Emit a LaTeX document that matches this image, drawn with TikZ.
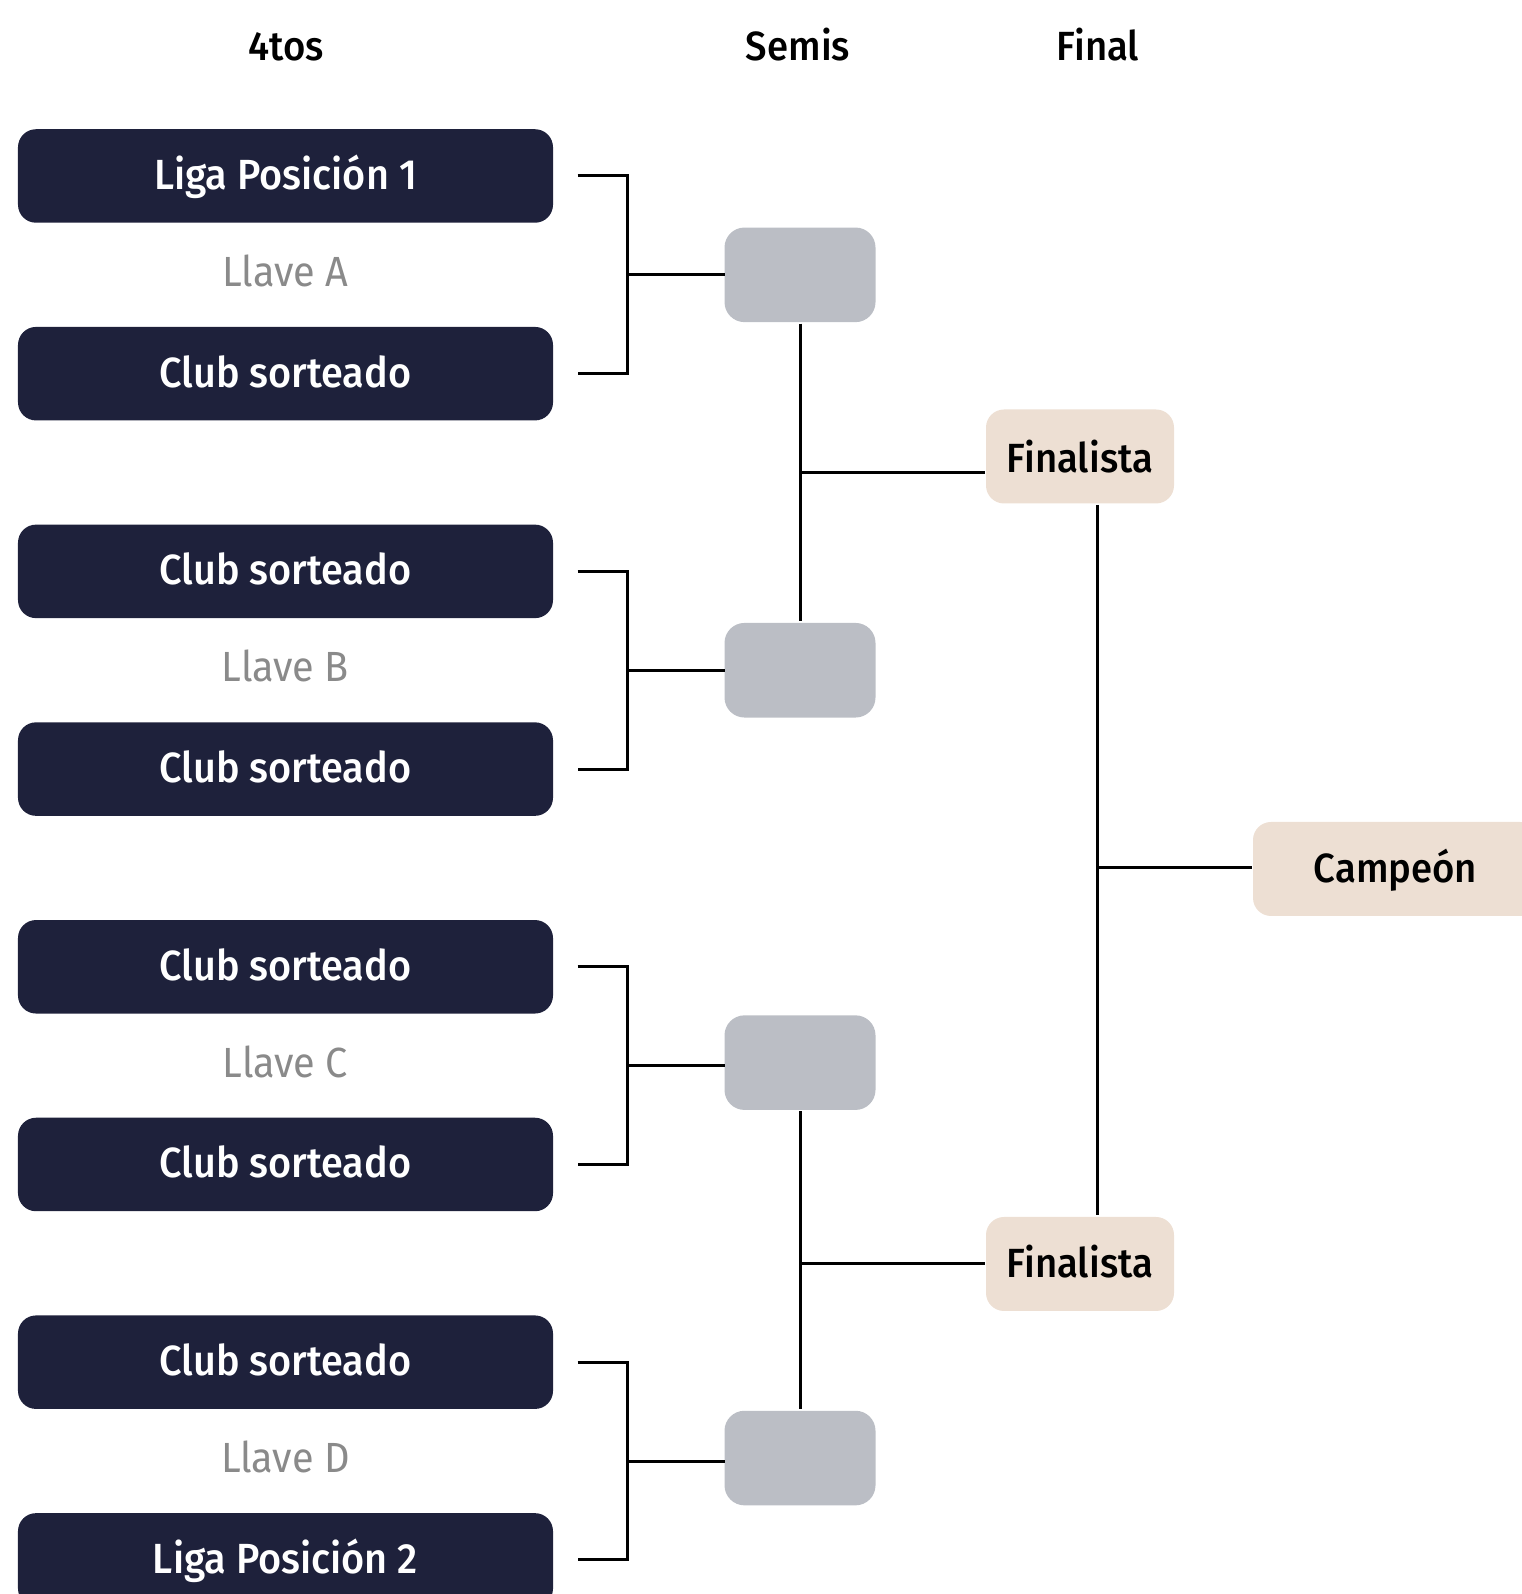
\documentclass[tikz,border=0pt]{standalone}
\usepackage{fontspec}
\setmainfont{Fira Sans Medium}[FakeStretch=0.94]
\newfontfamily\llavefont{Fira Sans}[FakeStretch=0.94]
\usetikzlibrary{calc}

\definecolor{navy}{HTML}{1E213B}
\definecolor{semigrey}{HTML}{BBBEC5}
\definecolor{beige}{HTML}{EDDFD3}
\definecolor{llavegrey}{HTML}{8A8A8A}

\begin{document}
\begin{tikzpicture}[
  team/.style={fill=navy,rounded corners=0.18cm,minimum width=5.35cm,minimum height=0.935cm,inner sep=0pt,
    text=white,font=\fontsize{12}{14}\selectfont,text height=0.27cm,text depth=0pt},
  semi/.style={fill=semigrey,rounded corners=0.2cm,minimum width=1.51cm,minimum height=0.946cm,inner sep=0pt},
  finalbox/.style={fill=beige,rounded corners=0.18cm,minimum height=0.94cm,inner sep=0pt,
    font=\fontsize{11.6}{14}\selectfont,text height=0.27cm,text depth=0pt},
  roundname/.style={font=\fontsize{11.6}{14}\selectfont,anchor=base},
  llave/.style={text=llavegrey,font=\llavefont\fontsize{12}{14}\selectfont,anchor=base},
  line width=0.85pt]
\useasboundingbox (0,0) rectangle (15.22,15.94);
\clip (0,0) rectangle (15.22,15.94);

% the rounds
\node[roundname] (h1) at (2.86,15.333) {4tos};
\node[roundname] (h2) at (7.98,15.333) {Semis};
\node[roundname] (h3) at (10.98,15.333) {Final};

% the clubs
\foreach \t [count=\i] in {Liga Posición 1,Club sorteado,Club sorteado,Club sorteado,Club sorteado,Club sorteado,Club sorteado,Liga Posición 2}
  \node[team] (q\i) at (2.855,{14.18-1.977*(\i-1)}) {\t};

% the keys and brackets
\foreach \k/\a/\b/\l/\dy in {1/1/2/A/0,2/3/4/B/0,3/5/6/C/0.03,4/7/8/D/0.03} {
  \node[llave] (k\k) at ($(q\a)!0.5!(q\b)+(0,-0.117)$) {Llave \l};
  \node[semi] (s\k) at ($(q\a)!0.5!(q\b)+(5.145,\dy)$) {};
  \draw ([xshift=0.23cm]q\a.east) -| ([xshift=0.73cm]q\b.east) -- ([xshift=0.23cm]q\b.east);
  \draw ($(q\a)!0.5!(q\b)+(3.405,0)$) -- ($(q\a)!0.5!(q\b)+(4.39,0)$);
}

% the final
\node[finalbox,minimum width=1.88cm,text height=0.33cm] (f1) at (10.80,11.375) {Finalista};
\node[finalbox,minimum width=1.88cm] (f2) at (10.80,3.30) {Finalista};
\node[finalbox,minimum width=2.85cm] (c) at (13.955,7.25) {Campeón};

\coordinate (m1) at ($(q2)!0.5!(q3)+(5.145,0)$);
\coordinate (m2) at ($(q6)!0.5!(q7)+(5.145,0)$);
\coordinate (m3) at ($(m1)!0.5!(m2)$);
\draw (s1.south) -- (s2.north);
\draw (s3.south) -- (s4.north);
\draw (m1) -- (m1 -| f1.west);
\draw (m2) -- (m2 -| f2.west);
\draw ([xshift=0.17cm]f1.south) -- ([xshift=0.17cm]f2.north);
\draw ($(m3 -| f1.south)+(0.17,0)$) -- (m3 -| c.west);
\end{tikzpicture}
\end{document}
